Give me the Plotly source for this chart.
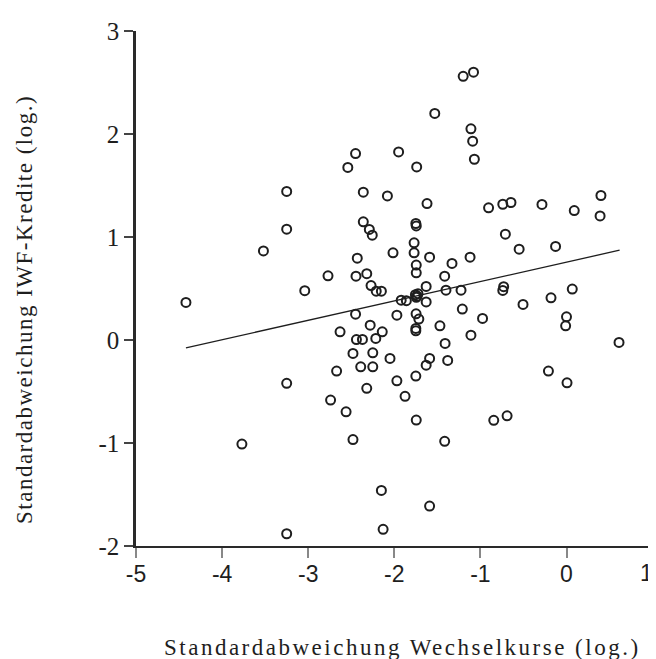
import plotly.graph_objects as go

# Scatter data: Standardabweichung Wechselkurse (log.) vs. IWF-Kredite (log.)
x_vals = [
    -1.20, -1.08, -1.53, -1.11, -1.09, -1.07, -1.95, -1.74, -1.62, -0.905,
    -0.74, -0.645, -0.285, 0.09, 0.40, 0.39, -1.75, -1.745, -1.77, -0.71,
    -0.55, -0.127, -1.77, -2.015, -1.59, -1.33, -1.12, -1.745, -1.745, -1.415,
    -1.63, -1.40, -1.225, -0.73, -0.74, 0.067, -2.45, -2.54, -3.25, -2.36,
    -2.08, -3.25, -3.52, -2.36, -2.29, -2.256, -2.43, -2.77, -2.445, -2.32,
    -3.04, -2.27, -2.21, -2.15, -4.42, -2.45, -1.97, -2.28, -2.63, -2.14,
    -2.44, -2.37, -2.215, -2.48, -2.25, -2.05, -2.67, -2.39, -2.25, -1.97,
    -2.32, -3.25, -2.74, -2.56, -2.48, -3.77, -2.15, -2.13, -3.25,
    -1.755, -1.735, -1.725, -1.745, -1.92, -1.86, -1.63, -1.21, -0.505, -0.18,
    -1.747, -1.715, -1.75, -1.75, -1.47, -0.975, -1.11, -1.41, 0.0, -0.01,
    0.61, -1.59, -1.63, -1.38, -1.75, -0.21, 0.006, -1.875, -1.745, -0.845,
    -0.69, -1.415, -1.59,
]
y_vals = [
    2.56, 2.60, 2.20, 2.05, 1.93, 1.755, 1.826, 1.68, 1.325, 1.283,
    1.318, 1.335, 1.316, 1.257, 1.403, 1.205, 1.131, 1.108, 0.943, 1.027,
    0.882, 0.908, 0.846, 0.846, 0.804, 0.743, 0.804, 0.727, 0.652, 0.620,
    0.520, 0.484, 0.484, 0.518, 0.481, 0.494, 1.81, 1.675, 1.442, 1.435,
    1.399, 1.076, 0.865, 1.147, 1.073, 1.018, 0.794, 0.623, 0.620, 0.644,
    0.479, 0.528, 0.474, 0.474, 0.365, 0.251, 0.241, 0.144, 0.079, 0.079,
    0.004, 0.006, 0.015, -0.130, -0.124, -0.179, -0.302, -0.260, -0.260, -0.396,
    -0.469, -0.421, -0.583, -0.697, -0.967, -1.010, -1.460, -1.838, -1.881,
    0.44, 0.425, 0.45, 0.415, 0.387, 0.382, 0.370, 0.300, 0.345, 0.409,
    0.254, 0.203, 0.112, 0.089, 0.138, 0.209, 0.047, -0.033, 0.225, 0.138,
    -0.024, -0.179, -0.244, -0.198, -0.350, -0.302, -0.416, -0.547, -0.777, -0.780,
    -0.736, -0.984, -1.612,
]

# Regression line
fit_x = [-4.42, 0.617]
fit_y = [-0.076, 0.872]

x_ticks = [-5, -4, -3, -2, -1, 0, 1]
x_tick_text = ["-5", "-4", "-3", "-2", "-1", "0", "1"]
y_ticks = [-2, -1, 0, 1, 2, 3]
y_tick_text = ["-2", "-1", "0", "1", "2", "3"]

x_title = "Standardabweichung Wechselkurse (log.)"
y_title = "Standardabweichung IWF-Kredite (log.)"

ink = "#1e1e1e"
serif = "Liberation Serif, Times New Roman, serif"
sans = "Liberation Sans, Arial, sans-serif"

fig = go.Figure()
fig.add_trace(go.Scatter(
    x=fit_x, y=fit_y, mode="lines",
    line=dict(color=ink, width=1.3),
    showlegend=False, hoverinfo="skip",
))
fig.add_trace(go.Scatter(
    x=x_vals, y=y_vals, mode="markers",
    marker=dict(symbol="circle-open", size=9, color=ink, line=dict(width=2, color=ink)),
    showlegend=False,
))

# page body adds an 8px offset; figure sized so the page fills the window
W, H = 648, 651
L, R, T, B = 128, 0, 23, 113
pw, ph = W - L - R, H - T - B

# the last x tick label sits at the page's right edge: draw it as an annotation
# nudged inward so it stays visible
edge_label = x_tick_text[-1]
axis_text = x_tick_text[:-1] + [""]

fig.update_layout(
    template="none",
    width=W, height=H,
    margin=dict(l=L, r=R, t=T, b=B),
    plot_bgcolor="white", paper_bgcolor="white",
    xaxis=dict(
        range=[-5, -5 + pw / 86.1],
        automargin=False,
        tickvals=x_ticks, ticktext=axis_text,
        showgrid=False, zeroline=False,
        showline=True, linecolor="#2a2a2a", linewidth=2,
        ticks="outside", ticklen=10, tickwidth=1.5, tickcolor="#888888",
        ticklabelstandoff=-4, ticklabeloverflow="allow",
        tickfont=dict(family=sans, size=23, color=ink),
    ),
    yaxis=dict(
        range=[-2, 3],
        automargin=False,
        tickvals=y_ticks, ticktext=y_tick_text,
        showgrid=False, zeroline=False,
        showline=True, linecolor="#2a2a2a", linewidth=2.5,
        ticks="outside", ticklen=9, tickwidth=1.5, tickcolor="#444444",
        ticklabeloverflow="allow",
        tickfont=dict(family=serif, size=25, color=ink),
    ),
    annotations=[
        dict(
            text=edge_label,
            xref="x", yref="paper",
            x=x_ticks[-1], y=(H - B - 565) / ph,
            xanchor="right", yanchor="middle", showarrow=False, xshift=2,
            font=dict(family=sans, size=23, color=ink),
        ),
        dict(
            text="<span style='letter-spacing:2.5px'>" + x_title + "</span>",
            xref="paper", yref="paper",
            x=(394 - L) / pw, y=(H - B - 639) / ph,
            xanchor="center", yanchor="middle", showarrow=False,
            font=dict(family=serif, size=23, color=ink),
        ),
        dict(
            text="<span style='letter-spacing:1.5px'>" + y_title + "</span>",
            xref="paper", yref="paper",
            x=(16 - L) / pw, y=(H - B - 302) / ph,
            xanchor="center", yanchor="middle", showarrow=False, textangle=-90,
            font=dict(family=serif, size=23, color=ink),
        ),
    ],
)

fig.write_html("out.html")
